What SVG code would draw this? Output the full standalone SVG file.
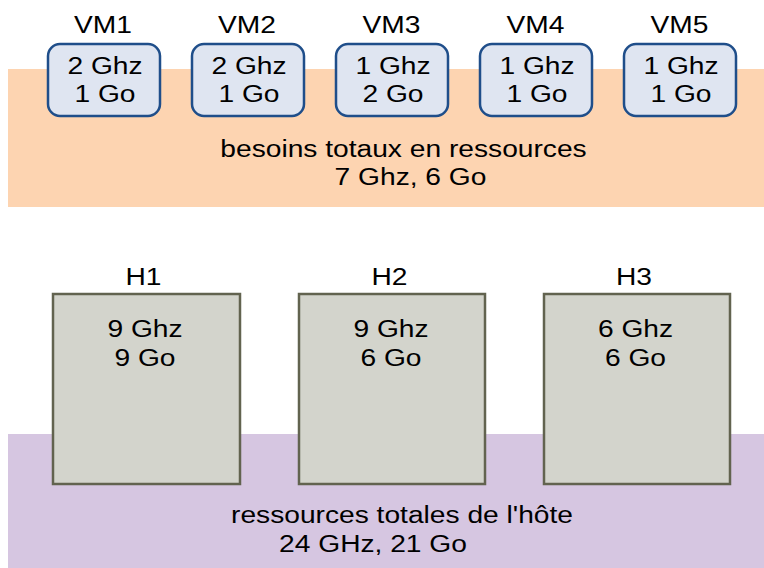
<svg xmlns="http://www.w3.org/2000/svg" width="764" height="568" viewBox="0 0 764 568">
<style>
.t{font-family:"Liberation Sans",Arial,sans-serif;font-size:24.5px;text-anchor:middle;fill:#000}
.vm{fill:#dfe5f1;stroke:#1f4e8a;stroke-width:2.5}
.host{fill:#d3d4cc;stroke:#62634f;stroke-width:2.5}
</style>
<rect id="band-vm" x="8" y="69" width="756" height="138" fill="#fdd4b1"/>
<rect id="band-host" x="8" y="434" width="756" height="134" fill="#d6c6e1"/>
<text class="t" transform="matrix(1.15 0 0 1 403.5 157)"><tspan x="0">besoins totaux en ressources</tspan></text>
<text class="t" transform="matrix(1.15 0 0 1 410.5 185)"><tspan x="0">7 Ghz, 6 Go</tspan></text>
<text class="t" transform="matrix(1.15 0 0 1 402 523)"><tspan x="0">ressources totales de l'hôte</tspan></text>
<text class="t" transform="matrix(1.15 0 0 1 373 552)"><tspan x="0">24 GHz, 21 Go</tspan></text>
<g id="VM1">
<text class="t" transform="matrix(1.15 0 0 1 103 33)">VM1</text>
<rect class="vm" x="48" y="44" width="112" height="72" rx="12"/>
<text class="t" transform="matrix(1.15 0 0 1 105 74)"><tspan x="0">2 Ghz</tspan><tspan x="0" dy="28">1 Go</tspan></text>
</g>
<g id="VM2">
<text class="t" transform="matrix(1.15 0 0 1 247 33)">VM2</text>
<rect class="vm" x="192" y="44" width="112" height="72" rx="12"/>
<text class="t" transform="matrix(1.15 0 0 1 249 74)"><tspan x="0">2 Ghz</tspan><tspan x="0" dy="28">1 Go</tspan></text>
</g>
<g id="VM3">
<text class="t" transform="matrix(1.15 0 0 1 391.5 33)">VM3</text>
<rect class="vm" x="336" y="44" width="112" height="72" rx="12"/>
<text class="t" transform="matrix(1.15 0 0 1 393 74)"><tspan x="0">1 Ghz</tspan><tspan x="0" dy="28">2 Go</tspan></text>
</g>
<g id="VM4">
<text class="t" transform="matrix(1.15 0 0 1 535.5 33)">VM4</text>
<rect class="vm" x="480" y="44" width="112" height="72" rx="12"/>
<text class="t" transform="matrix(1.15 0 0 1 537 74)"><tspan x="0">1 Ghz</tspan><tspan x="0" dy="28">1 Go</tspan></text>
</g>
<g id="VM5">
<text class="t" transform="matrix(1.15 0 0 1 679.5 33)">VM5</text>
<rect class="vm" x="624" y="44" width="112" height="72" rx="12"/>
<text class="t" transform="matrix(1.15 0 0 1 681 74)"><tspan x="0">1 Ghz</tspan><tspan x="0" dy="28">1 Go</tspan></text>
</g>
<g id="H1">
<text class="t" transform="matrix(1.15 0 0 1 143.5 285)">H1</text>
<rect class="host" x="53" y="294" width="187" height="190"/>
<text class="t" transform="matrix(1.15 0 0 1 145 337)"><tspan x="0">9 Ghz</tspan><tspan x="0" dy="29">9 Go</tspan></text>
</g>
<g id="H2">
<text class="t" transform="matrix(1.15 0 0 1 389.5 285)">H2</text>
<rect class="host" x="299" y="294" width="186" height="190"/>
<text class="t" transform="matrix(1.15 0 0 1 391 337)"><tspan x="0">9 Ghz</tspan><tspan x="0" dy="29">6 Go</tspan></text>
</g>
<g id="H3">
<text class="t" transform="matrix(1.15 0 0 1 634 285)">H3</text>
<rect class="host" x="544" y="294" width="186" height="190"/>
<text class="t" transform="matrix(1.15 0 0 1 635.5 337)"><tspan x="0">6 Ghz</tspan><tspan x="0" dy="29">6 Go</tspan></text>
</g>
</svg>
